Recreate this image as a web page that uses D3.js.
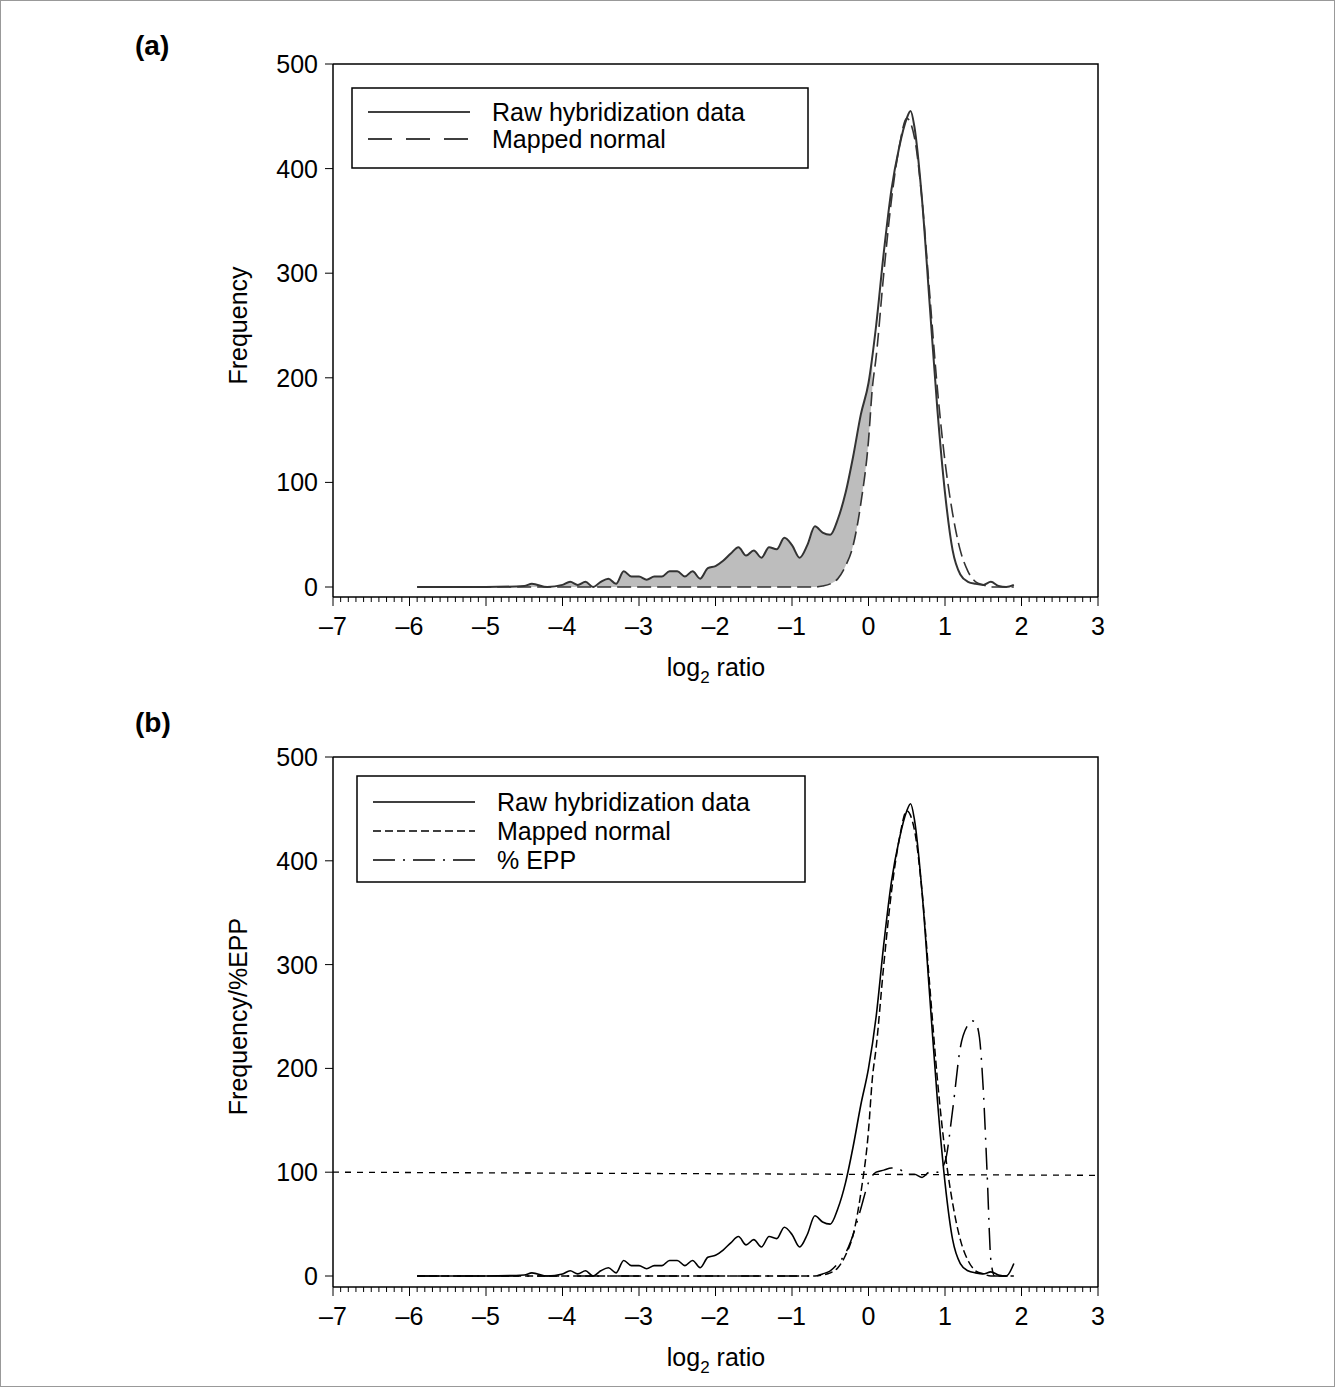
<!DOCTYPE html>
<html><head><meta charset="utf-8">
<script src="https://cdn.jsdelivr.net/npm/d3@7"></script>
<style>body{margin:0;background:#fff}svg text{font-family:"Liberation Sans",Arial,sans-serif}</style>
</head><body>
<script>
// data
const rawX = [-5.9,-5.5,-5,-4.5,-4.4,-4.2,-4,-3.9,-3.8,-3.7,-3.6,-3.5,-3.4,-3.3,-3.2,-3.1,-3,-2.9,-2.8,-2.7,-2.6,-2.5,-2.4,-2.3,-2.2,-2.1,-2,-1.9,-1.8,-1.7,-1.6,-1.5,-1.4,-1.3,-1.2,-1.1,-1,-0.9,-0.8,-0.7,-0.6,-0.5,-0.4,-0.3,-0.2,-0.1,0,0.1,0.2,0.3,0.4,0.5,0.55,0.6,0.7,0.8,0.9,1,1.1,1.2,1.3,1.4,1.5,1.6,1.7,1.8,1.9]
const rawY = [0,0,0,1,3,0,2,5,2,5,0,5,8,3,15,10,10,7,10,10,15,15,10,15,8,18,20,25,32,38,30,35,28,38,36,47,40,28,40,58,52,50,65,90,125,165,195,250,320,380,420,448,455,440,370,270,170,90,35,12,5,3,2,5,1,0,2]
const rawYb = [0,0,0,1,3,0,2,5,2,5,0,5,8,3,15,10,10,7,10,10,15,15,10,15,8,18,20,25,32,38,30,35,28,38,36,47,40,28,40,58,52,50,65,90,125,165,200,250,320,380,420,448,455,440,370,270,170,90,35,12,5,3,2,4,1,0,12]
const normX = [-5.9,-1,-0.7,-0.6,-0.5,-0.4,-0.3,-0.2,-0.1,0,0.05,0.1,0.2,0.3,0.4,0.5,0.6,0.7,0.8,0.9,1,1.1,1.2,1.3,1.4,1.5,1.6,1.9]
const normY = [0,0,0,1,3,8,20,40,80,140,190,220,300,370,420,448,430,370,280,190,120,70,35,15,5,2,0,0]
const eppX = [-5.9,-0.7,-0.6,-0.5,-0.4,-0.3,-0.2,-0.1,0,0.1,0.2,0.3,0.4,0.5,0.6,0.7,0.8,0.9,1,1.1,1.2,1.3,1.35,1.4,1.45,1.5,1.55,1.6,1.65,1.9]
const eppY = [0,0,2,5,12,22,40,65,90,100,102,104,103,98,98,95,100,100,110,160,220,242,246,244,230,180,100,15,0,0]
const refX = [-7,3], refY = [100,97]
const xTicks = [-7,-6,-5,-4,-3,-2,-1,0,1,2,3]
const yTicks = [0,100,200,300,400,500]

const W = 1335, H = 1387
const svg = d3.select('body').append('svg').attr('width', W).attr('height', H)
svg.append('rect').attr('x',0.5).attr('y',0.5).attr('width',W-1).attr('height',H-1).attr('fill','none').attr('stroke','#999')

const fmt = d => d < 0 ? '\u2013' + Math.abs(d) : String(d)

function panel (top, y0, y500, axisY, label, ylab, legend, lines, shade) {
  const x = d3.scaleLinear().domain([-7,3]).range([333,1098])
  const y = d3.scaleLinear().domain([0,500]).range([y0,y500])
  const g = svg.append('g')
  // frame
  g.append('path').attr('d', `M333,${y500}H1098V${axisY}`).attr('fill','none').attr('stroke','#000').attr('stroke-width',1.5)
  // x axis
  const xa = g.append('g').attr('transform', `translate(0,${axisY})`)
  xa.append('line').attr('x1',333).attr('x2',1098).attr('stroke','#000').attr('stroke-width',1.5)
  d3.range(-70,31).forEach(i => {
    const major = i % 10 === 0
    xa.append('line').attr('x1',x(i/10)).attr('x2',x(i/10)).attr('y1',0).attr('y2',major?9:5).attr('stroke','#000').attr('stroke-width',1)
  })
  xTicks.forEach(t => xa.append('text').attr('x',x(t)).attr('y',38).attr('text-anchor','middle').attr('font-size',25).text(fmt(t)))
  const xl = g.append('text').attr('x',716).attr('y',axisY+79).attr('text-anchor','middle').attr('font-size',25)
  xl.append('tspan').text('log')
  xl.append('tspan').attr('font-size',17).attr('dy',7).text('2')
  xl.append('tspan').attr('dy',-7).text(' ratio')
  // y axis
  const ya = g.append('g')
  ya.append('line').attr('x1',333).attr('x2',333).attr('y1',y500).attr('y2',axisY).attr('stroke','#000').attr('stroke-width',1.5)
  yTicks.forEach(t => {
    ya.append('line').attr('x1',325).attr('x2',333).attr('y1',y(t)).attr('y2',y(t)).attr('stroke','#000')
    ya.append('text').attr('x',318).attr('y',y(t)+9).attr('text-anchor','end').attr('font-size',25).text(t)
  })
  g.append('text').attr('transform',`translate(247,${(y0+y500)/2}) rotate(-90)`).attr('text-anchor','middle').attr('font-size',25).text(ylab)
  g.append('text').attr('x',135).attr('y',top).attr('font-size',28).attr('font-weight','bold').text(label)

  if (shade) {
    const xs = rawX.filter(v => v <= 0.05).concat([0.05])
    const lo = d3.scaleLinear().domain(normX).range(normY)
    const hi = d3.scaleLinear().domain(rawX).range(rawY)
    g.append('path').datum(xs)
      .attr('d', d3.area().x(d => x(d)).y0(d => y(Math.min(lo(d), hi(d)))).y1(d => y(hi(d))).curve(d3.curveMonotoneX))
      .attr('fill','#bdbdbd')
  }
  lines.forEach(l => {
    g.append('path').datum(l.xs.map((v,i) => [v, l.ys[i]]))
      .attr('d', d3.line().x(d => x(d[0])).y(d => y(d[1])).curve(d3.curveMonotoneX))
      .attr('fill','none').attr('stroke', l.color || '#000').attr('stroke-width', l.w || 1.6)
      .attr('stroke-dasharray', l.dash || null)
  })
  // legend
  const lg = g.append('g')
  lg.append('rect').attr('x',legend.x).attr('y',legend.y).attr('width',legend.w).attr('height',legend.h).attr('fill','#fff').attr('stroke','#000').attr('stroke-width',1.5)
  legend.items.forEach((it,i) => {
    const yy = legend.y + legend.r0 + i*legend.dy
    lg.append('line').attr('x1',legend.x+16).attr('x2',legend.x+118).attr('y1',yy).attr('y2',yy).attr('stroke','#000').attr('stroke-width',1.5).attr('stroke-dasharray',it.dash||null)
    lg.append('text').attr('x',legend.x+140).attr('y',yy+9).attr('font-size',25).text(it.name)
  })
}

panel(55, 587, 64, 597, '(a)', 'Frequency',
  {x:352,y:88,w:456,h:80,r0:24,dy:27,items:[{name:'Raw hybridization data'},{name:'Mapped normal',dash:'24,14'}]},
  [{xs:rawX, ys:rawY, color:'#333', w:2},
   {xs:normX, ys:normY, color:'#333', w:1.6, dash:'14,6'}], true)

panel(732, 1276, 757, 1287, '(b)', 'Frequency/%EPP',
  {x:357,y:776,w:448,h:106,r0:26,dy:29,items:[{name:'Raw hybridization data'},{name:'Mapped normal',dash:'8,4'},{name:'% EPP',dash:'22,8,2,8'}]},
  [{xs:refX, ys:refY, w:1.3, dash:'6,6'},
   {xs:rawX, ys:rawYb, w:1.6},
   {xs:normX, ys:normY, w:1.5, dash:'8,4'},
   {xs:eppX, ys:eppY, w:1.5, dash:'22,8,2,8'}], false)
</script>
</body></html>
